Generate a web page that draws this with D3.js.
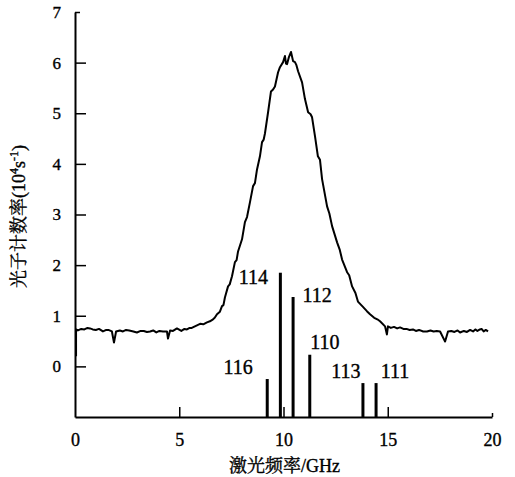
<!DOCTYPE html>
<html>
<head>
<meta charset="utf-8">
<script src="https://cdn.jsdelivr.net/npm/d3@7"></script>
<style>
  body { margin: 0; background: #fff; }
  svg text { font-family: "Liberation Serif", "Times New Roman", "Noto Serif CJK SC", "Noto Sans CJK SC", serif; fill: #000; stroke: #000; stroke-width: 0.35px; }
</style>
</head>
<body>
<div id="chart"></div>
<script>
// scan curve: laser frequency (GHz) vs photon count rate (10^4 s^-1)
var scanFreq = [0.05, 0.05, 0.14, 0.3, 0.45, 0.6, 0.72, 0.85, 1.0, 1.15, 1.34, 1.5, 1.6, 1.77, 1.87, 1.97, 2.15, 2.3, 2.45, 2.6, 2.8, 2.97, 3.15, 3.3, 3.45, 3.6, 3.75, 3.9, 4.05, 4.22, 4.41, 4.46, 4.56, 4.7, 4.89, 5.1, 5.25, 5.37, 5.5, 5.6, 5.75, 5.85, 6.0, 6.15, 6.33, 6.47, 6.62, 6.7, 6.81, 6.95, 7.05, 7.12, 7.19, 7.34, 7.42, 7.53, 7.67, 7.75, 7.82, 8.01, 8.15, 8.25, 8.39, 8.54, 8.63, 8.73, 8.87, 8.97, 9.05, 9.11, 9.26, 9.40, 9.50, 9.59, 9.74, 9.83, 9.98, 10.07, 10.12, 10.17, 10.26, 10.36, 10.46, 10.55, 10.62, 10.70, 10.89, 11.03, 11.18, 11.30, 11.37, 11.51, 11.65, 11.75, 11.85, 12.09, 12.2, 12.33, 12.57, 12.7, 12.81, 13.05, 13.15, 13.29, 13.45, 13.57, 13.8, 14.0, 14.15, 14.35, 14.5, 14.63, 14.87, 14.96, 15.01, 15.15, 15.3, 15.45, 15.59, 15.75, 15.9, 16.05, 16.21, 16.35, 16.5, 16.7, 16.88, 17.05, 17.2, 17.35, 17.51, 17.75, 17.89, 18.05, 18.2, 18.35, 18.47, 18.65, 18.8, 18.95, 19.09, 19.2, 19.3, 19.42, 19.5, 19.6, 19.7, 19.81];
var scanRate = [0.20, 0.73, 0.71, 0.74, 0.73, 0.76, 0.75, 0.73, 0.72, 0.74, 0.69, 0.72, 0.72, 0.69, 0.47, 0.69, 0.71, 0.69, 0.72, 0.71, 0.69, 0.67, 0.70, 0.70, 0.68, 0.69, 0.71, 0.67, 0.70, 0.69, 0.69, 0.55, 0.71, 0.70, 0.75, 0.70, 0.74, 0.73, 0.76, 0.76, 0.79, 0.81, 0.84, 0.83, 0.87, 0.89, 0.93, 0.96, 1.03, 1.08, 1.19, 1.21, 1.36, 1.58, 1.62, 1.78, 2.06, 2.10, 2.27, 2.51, 2.85, 2.95, 3.24, 3.56, 3.62, 3.89, 4.15, 4.43, 4.48, 4.60, 5.02, 5.43, 5.47, 5.53, 5.81, 5.91, 6.01, 6.13, 5.98, 5.97, 6.11, 6.21, 6.03, 6.01, 5.95, 5.83, 5.61, 5.28, 5.02, 4.98, 4.92, 4.55, 4.15, 4.08, 3.70, 3.16, 3.02, 2.77, 2.45, 2.30, 2.11, 1.86, 1.80, 1.58, 1.45, 1.28, 1.18, 1.09, 1.03, 0.96, 0.93, 0.89, 0.79, 0.63, 0.79, 0.76, 0.78, 0.75, 0.77, 0.74, 0.74, 0.72, 0.73, 0.70, 0.72, 0.69, 0.69, 0.71, 0.69, 0.70, 0.69, 0.49, 0.69, 0.70, 0.68, 0.71, 0.67, 0.70, 0.68, 0.72, 0.69, 0.73, 0.70, 0.73, 0.74, 0.69, 0.72, 0.69];

// isotope lines (mass number, position, relative strength on the same axis)
var isoLabels = ["116", "114", "112", "110", "113", "111"];
var isoFreq = [9.22, 9.85, 10.46, 11.26, 13.81, 14.44];
var isoTop = [-0.25, 1.85, 1.37, 0.23, -0.33, -0.33];

var xTicks = [0, 5, 10, 15, 20];
var yTicks = [0, 1, 2, 3, 4, 5, 6, 7];

// label placement next to each line (px)
var labelDx = [-29, -27, 24, 15, -17, 19];
var labelDy = [-5, 11, 5, -6, -5, -5];

var svgWidth = 515, svgHeight = 477;
var margin = { top: 12, right: 23, bottom: 60, left: 75 };
var width = svgWidth - margin.left - margin.right;
var height = svgHeight - margin.top - margin.bottom;

var svg = d3.select("#chart")
  .append("svg")
  .attr("width", svgWidth)
  .attr("height", svgHeight)
  .append("g")
  .attr("transform", "translate(" + margin.left + "," + margin.top + ")");

var x = d3.scaleLinear().domain([0, 20]).range([0, width]);
var y = d3.scaleLinear().domain([-1, 7]).range([height, 0]);

// x axis, ticks pointing inward
var xAxis = svg.append("g")
  .attr("transform", "translate(0," + height + ")")
  .call(d3.axisBottom(x).tickValues(xTicks).tickSize(-10).tickPadding(16).tickSizeOuter(0));
xAxis.select(".domain").attr("stroke", "#000").attr("stroke-width", 2);
xAxis.selectAll(".tick line").attr("stroke", "#000").attr("stroke-width", 1.5)
  .attr("y2", function(d) { return d === 20 ? -4 : (d === 0 ? 0 : -10); });
xAxis.selectAll(".tick text").style("font-size", "18px");

// y axis, ticks pointing inward
var yAxis = svg.append("g")
  .call(d3.axisLeft(y).tickValues(yTicks).tickSize(-11).tickPadding(14).tickSizeOuter(0));
yAxis.select(".domain").attr("stroke", "#000").attr("stroke-width", 2);
yAxis.selectAll(".tick line").attr("stroke", "#000").attr("stroke-width", 1.5)
  .attr("x2", function(d) { return d === 7 ? 5 : 11; });
yAxis.selectAll(".tick text").style("font-size", "17px");

// isotope lines
svg.selectAll(".iso")
  .data(isoFreq)
  .enter().append("line")
  .attr("class", "iso")
  .attr("x1", function(d) { return x(d); })
  .attr("x2", function(d) { return x(d); })
  .attr("y1", y(-1))
  .attr("y2", function(d, i) { return y(isoTop[i]); })
  .attr("stroke", "#000")
  .attr("stroke-width", 3);

svg.selectAll(".isolabel")
  .data(isoLabels)
  .enter().append("text")
  .attr("class", "isolabel")
  .attr("x", function(d, i) { return x(isoFreq[i]) + labelDx[i]; })
  .attr("y", function(d, i) { return y(isoTop[i]) + labelDy[i]; })
  .attr("text-anchor", "middle")
  .style("font-size", "20px")
  .text(function(d) { return d; });

// scan curve
var line = d3.line()
  .x(function(d, i) { return x(scanFreq[i]); })
  .y(function(d) { return y(d); });

svg.append("path")
  .datum(scanRate)
  .attr("d", line)
  .attr("fill", "none")
  .attr("stroke", "#000")
  .attr("stroke-width", 2)
  .attr("stroke-linejoin", "round");

// axis titles
svg.append("text")
  .attr("x", width / 2 + 1)
  .attr("y", height + 55)
  .attr("text-anchor", "middle")
  .style("font-size", "18px")
  .text("激光频率/GHz");

var yTitle = svg.append("text")
  .attr("transform", "translate(" + (-50) + "," + (height / 2 + 2) + ") rotate(-90)")
  .attr("text-anchor", "middle")
  .style("font-size", "18px");
yTitle.append("tspan").text("光子计数率(10");
yTitle.append("tspan").attr("dy", -7).style("font-size", "12px").text("4");
yTitle.append("tspan").attr("dy", 7).text("s");
yTitle.append("tspan").attr("dy", -7).style("font-size", "12px").text("-1");
yTitle.append("tspan").attr("dy", 7).text(")");
</script>
</body>
</html>
